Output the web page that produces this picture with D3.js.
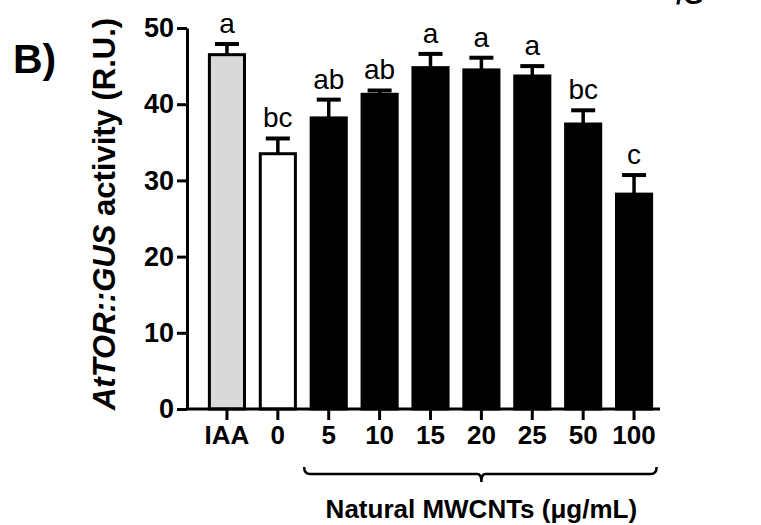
<!DOCTYPE html>
<html>
<head>
<meta charset="utf-8">
<script src="https://cdn.jsdelivr.net/npm/d3@7/dist/d3.min.js"></script>
<style>
  body { margin: 0; background: #fff; }
  text { font-family: "Liberation Sans", Arial, sans-serif; }
</style>
</head>
<body>
<div id="vis"></div>
<script>
var width = 761;
var height = 525;

// data
var categories = ["IAA", "0", "5", "10", "15", "20", "25", "50", "100"];
var means = [46.5, 33.5, 38.2, 41.3, 44.8, 44.5, 43.7, 37.4, 28.2];
var errors = [1.4, 2.0, 2.4, 0.5, 1.8, 1.6, 1.3, 1.8, 2.5];
var letters = ["a", "bc", "ab", "ab", "a", "a", "a", "bc", "c"];
var fills = ["#d9d9d9", "#ffffff", "#000000", "#000000", "#000000", "#000000", "#000000", "#000000", "#000000"];
var yTicks = [0, 10, 20, 30, 40, 50];

var svg = d3.select("#vis")
            .append("svg")
            .attr("width", width)
            .attr("height", height)
            .style("background-color", "#fff");

const x = d3.scaleBand()
        .domain(categories)
        .range([187, 674])
        .paddingInner(0.31)
        .paddingOuter(0.44);

const y = d3.scaleLinear()
        .domain([0, 50])
        .range([409, 28]);

// y axis
const yAxis = d3.axisLeft(y)
        .tickValues(yTicks)
        .tickSize(10)
        .tickSizeOuter(0)
        .tickPadding(3);

var gy = svg.append("g")
        .attr("transform", "translate(187,0)")
        .call(yAxis);
gy.select(".domain").attr("stroke-width", 3);
gy.selectAll(".tick line").attr("stroke-width", 3);
gy.selectAll(".tick text")
        .style("font-size", "27px")
        .style("font-weight", "bold")
        .attr("fill", "#000");

// bars
svg.selectAll(".bar")
  .data(categories)
  .enter()
  .append("rect")
  .attr("class", "bar")
  .attr("x", d => x(d))
  .attr("width", x.bandwidth())
  .attr("y", (d, i) => y(means[i]))
  .attr("height", (d, i) => y(0) - y(means[i]))
  .attr("fill", (d, i) => fills[i])
  .attr("stroke", "#000")
  .attr("stroke-width", 3);

// error bars (upper only)
var err = svg.selectAll(".err")
  .data(categories)
  .enter()
  .append("g")
  .attr("class", "err");

err.append("line")
  .attr("x1", d => x(d) + x.bandwidth() / 2)
  .attr("x2", d => x(d) + x.bandwidth() / 2)
  .attr("y1", (d, i) => y(means[i]))
  .attr("y2", (d, i) => y(means[i] + errors[i]))
  .attr("stroke", "#000")
  .attr("stroke-width", 3.5);

err.append("line")
  .attr("x1", d => x(d) + x.bandwidth() / 2 - 12)
  .attr("x2", d => x(d) + x.bandwidth() / 2 + 12)
  .attr("y1", (d, i) => y(means[i] + errors[i]))
  .attr("y2", (d, i) => y(means[i] + errors[i]))
  .attr("stroke", "#000")
  .attr("stroke-width", 4);

// significance letters
svg.selectAll(".letter")
  .data(categories)
  .enter()
  .append("text")
  .attr("class", "letter")
  .attr("x", d => x(d) + x.bandwidth() / 2)
  .attr("y", (d, i) => y(means[i] + errors[i]) - 11)
  .attr("text-anchor", "middle")
  .style("font-size", "28px")
  .text((d, i) => letters[i]);

// x axis
const xAxis = d3.axisBottom(x)
        .tickSize(11)
        .tickSizeOuter(0)
        .tickPadding(6);

var gx = svg.append("g")
        .attr("transform", `translate(0, ${y(0)})`)
        .call(xAxis);
gx.select(".domain").remove();
gx.selectAll(".tick line").attr("stroke-width", 3);
gx.selectAll(".tick text")
        .style("font-size", "26px")
        .style("font-weight", "bold")
        .attr("fill", "#000");

svg.append("line")
  .attr("x1", 187)
  .attr("x2", 660)
  .attr("y1", y(0))
  .attr("y2", y(0))
  .attr("stroke", "#000")
  .attr("stroke-width", 3);

// bracket under the MWCNT doses
var bx0 = x("5") - 7;
var bx1 = x("100") + x.bandwidth() + 5;
var bmid = x("20") + x.bandwidth() / 2;
var bpath = d3.path();
bpath.moveTo(bx0, 467);
bpath.quadraticCurveTo(bx0, 474, bx0 + 6, 474);
bpath.lineTo(bmid - 4, 474);
bpath.quadraticCurveTo(bmid, 474, bmid, 482);
bpath.quadraticCurveTo(bmid, 474, bmid + 4, 474);
bpath.lineTo(bx1 - 6, 474);
bpath.quadraticCurveTo(bx1, 474, bx1, 467);
svg.append("path")
  .attr("d", bpath.toString())
  .attr("fill", "none")
  .attr("stroke", "#000")
  .attr("stroke-width", 2.5);

svg.append("text")
  .attr("x", bmid)
  .attr("y", 518)
  .attr("text-anchor", "middle")
  .style("font-size", "26px")
  .style("font-weight", "bold")
  .text("Natural MWCNTs (μg/mL)");

// y axis title
var ylab = svg.append("text")
  .attr("transform", "translate(115,214) rotate(-90)")
  .attr("text-anchor", "middle")
  .style("font-size", "31px")
  .style("font-weight", "bold");
ylab.append("tspan").style("font-style", "italic").text("AtTOR::GUS");
ylab.append("tspan").text(" activity (R.U.)");

// panel label
svg.append("text")
  .attr("x", 13)
  .attr("y", 73)
  .style("font-size", "41px")
  .style("font-weight", "bold")
  .text("B)");

// cut-off text at the top edge, as in the source figure
svg.append("text")
  .attr("x", 676)
  .attr("y", 4)
  .style("font-size", "26px")
  .style("font-weight", "bold")
  .text("/G");
</script>
</body>
</html>
